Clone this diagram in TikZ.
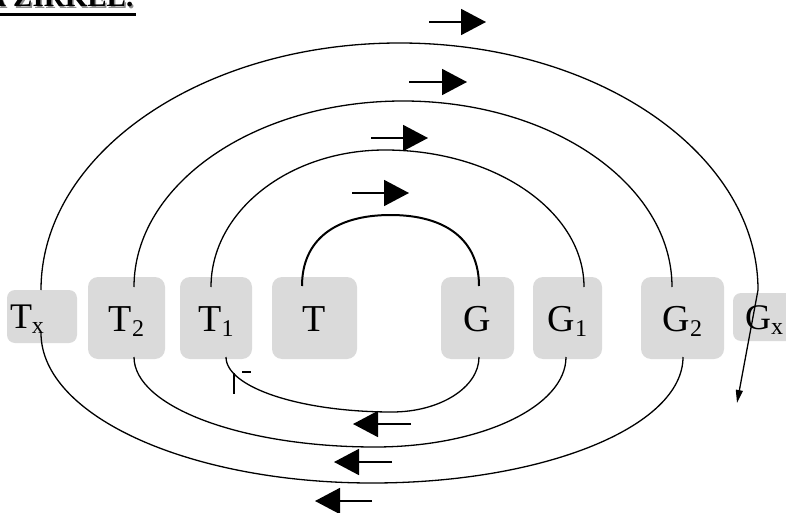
\documentclass[tikz,border=0pt]{standalone}
\usepackage{fontspec}
\setmainfont{Liberation Serif}
\usetikzlibrary{arrows.meta}
\definecolor{boxgray}{RGB}{218,218,218}
\definecolor{shadowgray}{RGB}{140,140,140}
\newcommand{\lowsub}[1]{\raisebox{-5pt}{\fontsize{24}{24}\selectfont #1}}
\begin{document}
\begin{tikzpicture}[x=1pt,y=-1pt,
  box/.style={fill=boxgray, rounded corners=10pt, inner sep=0pt, text height=26pt, text depth=0pt,
              font=\fontsize{38}{40}\selectfont, minimum height=82pt},
  smallbox/.style={box, rounded corners=8pt, text height=24pt, font=\fontsize{36}{38}\selectfont, align=left},
  loopline/.style={line width=1.3pt},
  innerline/.style={line width=2pt},
  flowarrow/.style={line width=1.8pt, -{Triangle[length=25pt,width=26pt]}},
  endarrow/.style={-{Triangle[length=13pt,width=7pt]}},
  titletext/.style={anchor=base east, inner sep=0pt, font=\fontsize{29}{30}\selectfont\bfseries}
]
\useasboundingbox (0,0) rectangle (786,513);

% title
\node[titletext, text=shadowgray] (titleshadow) at (135,8.5) {A ZIRKEL.};
\node[titletext] (title) at (133.5,7) {A ZIRKEL.};
\coordinate (ulL) at (0,14.5);
\coordinate (ulR) at (136,14.5);
\draw[line width=3pt] (ulL) -- (ulR);

% boxes
\node[smallbox, minimum width=70pt, minimum height=53pt, text width=64pt] (Tx) at (42,316.5) {T\lowsub{x}};
\node[box, minimum width=77pt] (T2) at (126.5,318) {T\lowsub{2}};
\node[box, minimum width=72pt] (T1) at (216,318) {T\lowsub{1}};
\node[box, minimum width=85pt] (T) at (314.5,318) {T};
\node[box, minimum width=73pt] (G) at (477.5,318) {G};
\node[box, minimum width=69pt] (G1) at (567.5,318) {G\lowsub{1}};
\node[box, minimum width=83pt] (G2) at (682.5,318) {G\lowsub{2}};
\node[smallbox, minimum width=70pt, minimum height=48pt, text width=46pt] (Gx) at (768,317) {G\lowsub{x}};

% connector end points
\coordinate (Ttop) at (302,286);   \coordinate (Gtop) at (479,286);
\coordinate (T1top) at (211,287);  \coordinate (G1top) at (584,287);
\coordinate (T2top) at (134,287);  \coordinate (G2top) at (672,287);
\coordinate (Txtop) at (41,290);   \coordinate (Gxtop) at (758,290);
\coordinate (Gxend) at (737,403);
\coordinate (T1bot) at (226,357);  \coordinate (Gbot) at (479,357);
\coordinate (T2bot) at (134,357);  \coordinate (G1bot) at (566,357);
\coordinate (Txbot) at (41,333);   \coordinate (G2bot) at (683,357);

% upper arcs
\draw[innerline] (Ttop) .. controls (302,240) and (335,215) .. (390.5,215)
                        .. controls (446,215) and (479,240) .. (Gtop);
\draw[loopline] (T1top) .. controls (211,211.3) and (288.9,150) .. (385,150)
                        .. controls (494.9,150) and (584,211.3) .. (G1top);
\draw[loopline] (T2top) .. controls (134,184.3) and (254.4,101) .. (403,101)
                        .. controls (551.6,101) and (672,184.3) .. (G2top);
\draw[loopline, endarrow] (Txtop) .. controls (41,153.6) and (201.5,43) .. (399.5,43)
                        .. controls (597.5,43) and (758,153.6) .. (Gxtop) -- (Gxend);

% lower arcs
\draw[loopline] (T1bot) .. controls (226,387.4) and (300.3,412) .. (392,412)
                        .. controls (440,412) and (479,387.4) .. (Gbot);
\draw[loopline] (T2bot) .. controls (134,406.7) and (241.9,447) .. (375,447)
                        .. controls (480.5,447) and (566,406.7) .. (G1bot);
\draw[loopline] (Txbot) .. controls (41,415.8) and (189.2,483) .. (372,483)
                        .. controls (543.8,483) and (683,426.6) .. (G2bot);

% small marks below T1
\coordinate (tickA) at (234,373); \coordinate (tickB) at (234,394);
\coordinate (dashA) at (242,372); \coordinate (dashB) at (251,372);
\draw[line width=2pt] (tickA) -- (tickB);
\draw[line width=2pt] (dashA) -- (dashB);

% direction arrows (upper)
\coordinate (a1s) at (429,22);  \coordinate (a1e) at (486,22);
\coordinate (a2s) at (409,82);  \coordinate (a2e) at (467,82);
\coordinate (a3s) at (371,138); \coordinate (a3e) at (428,138);
\coordinate (a4s) at (352,193); \coordinate (a4e) at (409,193);
\draw[flowarrow] (a1s) -- (a1e);
\draw[flowarrow] (a2s) -- (a2e);
\draw[flowarrow] (a3s) -- (a3e);
\draw[flowarrow] (a4s) -- (a4e);

% direction arrows (lower)
\coordinate (b1s) at (411,424); \coordinate (b1e) at (353,424);
\coordinate (b2s) at (392,462); \coordinate (b2e) at (334,462);
\coordinate (b3s) at (372,501); \coordinate (b3e) at (315,501);
\draw[flowarrow] (b1s) -- (b1e);
\draw[flowarrow] (b2s) -- (b2e);
\draw[flowarrow] (b3s) -- (b3e);
\end{tikzpicture}
\end{document}
